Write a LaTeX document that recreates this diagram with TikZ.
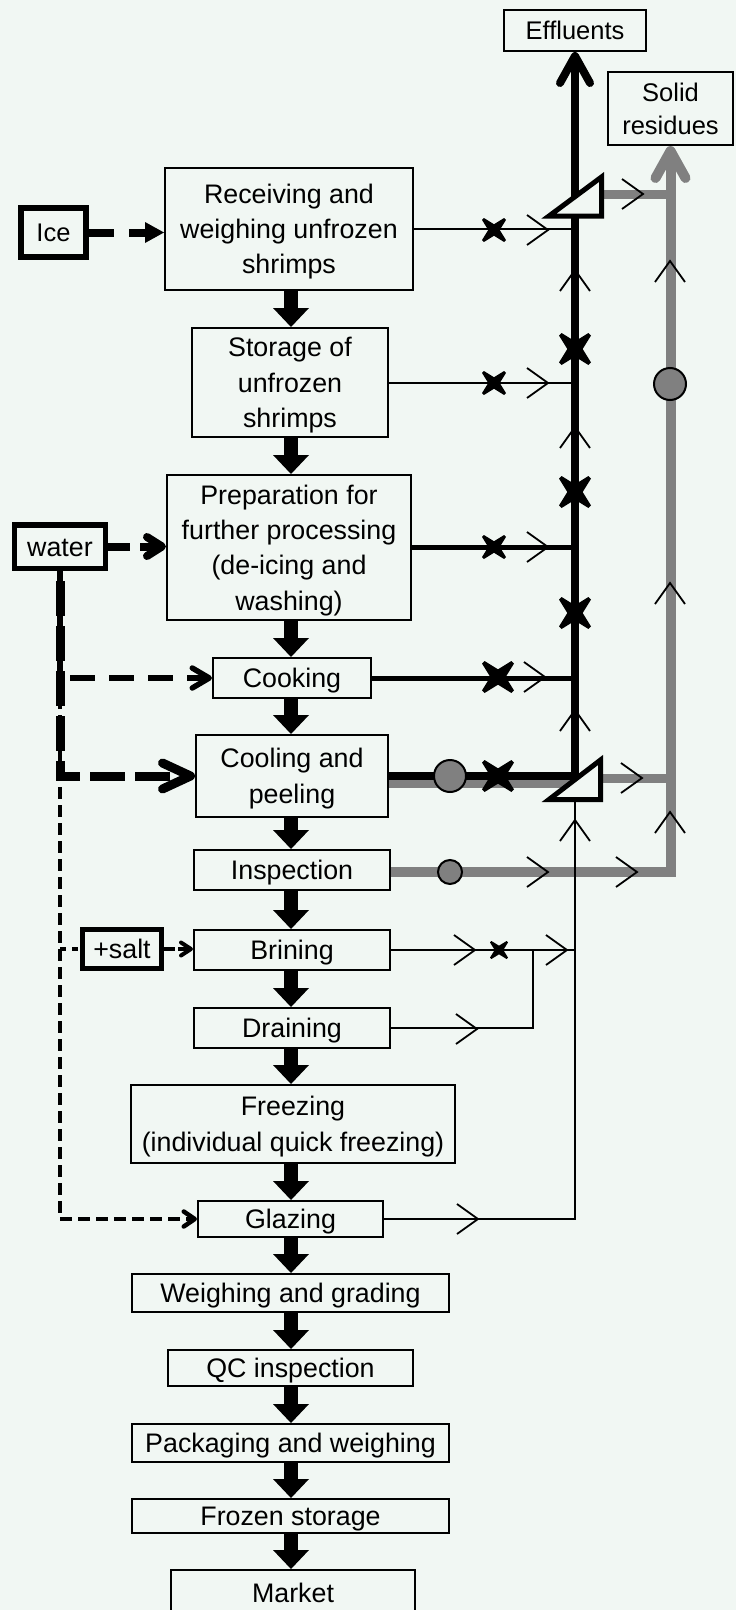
\documentclass[tikz,border=0pt]{standalone}
\usepackage{fontspec}
\setmainfont{Liberation Sans}
\usetikzlibrary{arrows.meta,calc}
\definecolor{paper}{RGB}{241,247,243}
\definecolor{solids}{RGB}{128,128,128}

\tikzset{
  % open chevron marking the flow direction on a line
  chev/.pic={\draw[line width=1.8bp, line cap=butt, line join=miter] (-21,-15) -- (0,0) -- (-21,15);},
  % bold cross marking a polluted stream
  xm/.pic={\fill (#1,0.84*#1) -- (0.84*#1,#1) -- (0,0.48*#1) -- (-0.84*#1,#1) -- (-#1,0.84*#1) -- (-0.48*#1,0)
              -- (-#1,-0.84*#1) -- (-0.84*#1,-#1) -- (0,-0.48*#1) -- (0.84*#1,-#1) -- (#1,-0.84*#1) -- (0.48*#1,0) -- cycle;},
}

\begin{document}
\begin{tikzpicture}[x=1bp, y=-1bp,
  every node/.style={font=\fontsize{26.8bp}{35.3bp}\selectfont, inner sep=0pt, align=center,
                     text height=19.2bp, text depth=0bp},
  stepbox/.style={draw, line width=2bp},
  twolines/.style={text height=54.5bp},
  threelines/.style={text height=89.8bp},
  fourlines/.style={text height=125.1bp},
  sinkbox/.style={font=\fontsize{25.5bp}{33.3bp}\selectfont, text height=18.3bp},
  dot/.style={circle, draw, line width=2bp, fill=solids, minimum size=#1, text height=0bp, text depth=0bp},
  flow/.style={line width=14bp, -{Triangle[length=19bp,width=36bp,line width=0bp]}},
  wire/.style={line width=2bp},
  heavywire/.style={line width=5bp},
  effluent/.style={line width=8bp, line join=miter},
  residue/.style={draw=solids, line width=10bp, line join=miter},
  splitter/.style={draw, line width=5bp, fill=paper, line join=miter},
  icefeed/.style={line width=8bp, dash pattern=on 25bp off 15bp, -{Triangle[length=19bp,width=21bp,line width=0bp]}},
  waterfeed/.style={line width=8bp, dash pattern=on 22bp off 10bp, -{Straight Barb[length=15bp,width=19bp,round]}},
  cookfeed/.style={line width=5.5bp, dash pattern=on 25bp off 14bp, -{Straight Barb[length=17bp,width=20bp,round]}},
  coolfeed/.style={line width=9bp, dash pattern=on 35bp off 10bp, dash phase=35bp, -{Straight Barb[length=28bp,width=26bp,round]}},
  glazefeed/.style={line width=4.5bp, dash pattern=on 12bp off 6bp, -{Straight Barb[length=11bp,width=15bp,round]}},
  saltlink/.style={line width=4.5bp, dash pattern=on 6bp off 6bp},
  saltfeed/.style={line width=4bp, dash pattern=on 11bp off 3bp, -{Straight Barb[length=10bp,width=13bp,round]}},
]
\useasboundingbox (0,0) rectangle (736,1610);
\clip (0,0) rectangle (736,1610);
\fill[paper] (0,0) rectangle (736,1610);

% ---------- process steps ----------
\node[stepbox, threelines, minimum width=248bp, minimum height=122bp] (recv) at (289,229) {Receiving and\\weighing unfrozen\\shrimps};
\node[stepbox, threelines, minimum width=196bp, minimum height=109bp] (stor) at (290,382.5) {Storage of\\unfrozen\\shrimps};
\node[stepbox, fourlines, minimum width=244bp, minimum height=145bp] (prep) at (289,547.5) {Preparation for\\further processing\\(de-icing and\\washing)};
\node[stepbox, minimum width=158bp, minimum height=40bp] (cook) at (292,678) {Cooking};
\node[stepbox, twolines, minimum width=192bp, minimum height=82bp] (cool) at (292,776) {Cooling and\\peeling};
\node[stepbox, minimum width=196bp, minimum height=40bp] (insp) at (292,870) {Inspection};
\node[stepbox, minimum width=196bp, minimum height=40bp] (brin) at (292,950) {Brining};
\node[stepbox, minimum width=196bp, minimum height=40bp] (drain) at (292,1028) {Draining};
\node[stepbox, twolines, minimum width=324bp, minimum height=78bp] (frz) at (293,1124) {Freezing\\(individual quick freezing)};
\node[stepbox, minimum width=185bp, minimum height=36bp] (glaz) at (290.5,1219) {Glazing};
\node[stepbox, minimum width=317bp, minimum height=38bp] (grade) at (290.5,1293) {Weighing and grading};
\node[stepbox, minimum width=245bp, minimum height=36bp] (qc) at (290.5,1368) {QC inspection};
\node[stepbox, minimum width=317bp, minimum height=38bp] (pack) at (290.5,1443) {Packaging and weighing};
\node[stepbox, minimum width=317bp, minimum height=34bp] (store) at (290.5,1516) {Frozen storage};
\node[stepbox, minimum width=244bp, minimum height=45bp] (market) at (293,1592.5) {Market};

% ---------- sinks ----------
\node[stepbox, sinkbox, minimum width=142bp, minimum height=41bp] (effl) at (575,30.5) {Effluents};
\node[stepbox, sinkbox, text height=51.6bp, minimum width=125bp, minimum height=73bp] (solid) at (670.5,108.5) {Solid\\residues};

% ---------- inputs ----------
\node[draw, line width=6bp, sinkbox, minimum width=65bp, minimum height=49bp] (ice) at (53.5,232.5) {Ice};
\node[draw, line width=5.5bp, minimum width=90.5bp, minimum height=43.5bp] (water) at (60,546.5) {water};
\node[draw, line width=5bp, minimum width=79bp, minimum height=39bp] (salt) at (122,949) {+salt};

% ---------- main product flow ----------
\coordinate (spine) at (291,0);
\foreach \a/\b in {recv/stor, stor/prep, prep/cook, cook/cool, cool/insp, insp/brin, brin/drain,
                   drain/frz, frz/glaz, glaz/grade, grade/qc, qc/pack, pack/store, store/market}
  \draw[flow] (\a.south -| spine) -- (\b.north -| spine);

% ---------- inputs of ice, water and salt ----------
\draw[icefeed] (ice.east) -- (ice.east -| recv.west);
\draw[waterfeed] (water.east) -- (water.east -| prep.west);
\draw[coolfeed] (water.south) |- (cool.west);
\draw[cookfeed] (water.south) |- (cook.west);
\draw[glazefeed] (water.south) |- (glaz.west);
\draw[saltlink] (water.south |- salt.west) -- (salt.west);
\draw[saltfeed] (salt.east) -- (salt.east -| brin.west);

% ---------- collector columns and separators ----------
\coordinate (ex) at (575,0);
\coordinate (gx) at (670,0);
\coordinate (jx) at (533,0);
\coordinate (tA1) at (549,216);
\coordinate (tA2) at (601.5,216);
\coordinate (tA3) at (601.5,177);
\coordinate (tB1) at (549,799.5);
\coordinate (tB2) at (600.5,799.5);
\coordinate (tB3) at (600.5,760);
\coordinate (footB) at (575,799.5);
\coordinate (outA) at (601.5,194);
\coordinate (outB) at (600.5,778);

% solid residues (grey)
\draw[residue, -{Straight Barb[length=27bp,width=30bp,round]}] ($(insp.east)+(0,2)$) -| (solid.south);
\draw[residue, line width=8bp] ($(cool.east)+(0,8)$) -- ($(cool.east -| ex)+(0,8)$);
\draw[residue, line width=9bp] (outA) -- (outA -| gx);
\draw[residue, line width=9bp] (outB) -- (outB -| gx);

% effluents (black)
\draw[effluent, -{Straight Barb[length=27bp,width=30bp,round]}] (cool.east) -| (effl.south);
\draw[wire] (recv.east) -- (recv.east -| ex);
\draw[wire] (stor.east) -- (stor.east -| ex);
\draw[heavywire] (prep.east) -- (prep.east -| ex);
\draw[heavywire] (cook.east) -- (cook.east -| ex);
\draw[wire] (brin.east) -- (brin.east -| ex);
\draw[wire] (drain.east) -| (brin.east -| jx);
\draw[wire] (glaz.east) -| (footB);

% separators
\draw[splitter] (tA1) -- (tA2) -- (tA3) -- cycle;
\draw[splitter] (tB1) -- (tB2) -- (tB3) -- cycle;

% ---------- markers ----------
\foreach \x/\y in {548/230, 548/383, 548/547, 545/677, 643/194, 642/778, 548/872, 637/872,
                   475/950, 567/950, 477/1029, 478/1219}
  \pic at (\x,\y) {chev};
\foreach \x/\y in {575/270, 575/427, 575/710, 575/820, 670/261, 670/583, 670/812}
  \pic[rotate=90] at (\x,\y) {chev};
\foreach \x/\y/\s in {494/230/12, 494/383/12, 494/547/12, 498/677/16, 498/776/16,
                      575/349/16, 575/492/16, 575/613/16, 499/950/9}
  \pic at (\x,\y) {xm=\s};
\node[dot=32bp] (d1) at (450,776) {};
\node[dot=24bp] (d2) at (450,872) {};
\node[dot=32bp] (d3) at (670,384) {};
\end{tikzpicture}
\end{document}
